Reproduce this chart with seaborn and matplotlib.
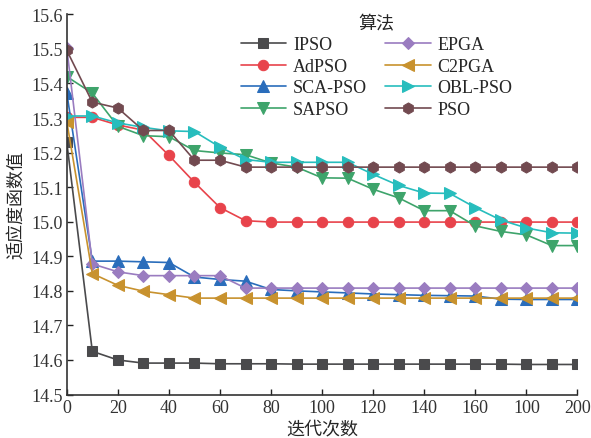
import numpy as np
import pandas as pd
import matplotlib
matplotlib.use("Agg")
import matplotlib.pyplot as plt
import seaborn as sns

iterations = [0, 10, 20, 30, 40, 50, 60, 70, 80, 90, 100, 110, 120, 130, 140, 150, 160, 170, 180, 190, 200]

ipso = [15.23, 14.625, 14.600, 14.591, 14.591, 14.591, 14.589, 14.589, 14.589, 14.588, 14.588, 14.588, 14.588, 14.588, 14.588, 14.588, 14.588, 14.588, 14.587, 14.587, 14.587]
adpso = [15.302, 15.302, 15.280, 15.265, 15.192, 15.114, 15.041, 15.003, 14.999, 14.999, 14.999, 14.999, 14.999, 14.999, 14.999, 14.999, 14.999, 14.999, 14.999, 14.999, 14.999]
sca_pso = [15.373, 14.886, 14.886, 14.884, 14.882, 14.840, 14.833, 14.828, 14.804, 14.800, 14.797, 14.794, 14.791, 14.789, 14.787, 14.786, 14.785, 14.776, 14.775, 14.775, 14.775]
sapso = [15.420, 15.372, 15.276, 15.249, 15.246, 15.206, 15.199, 15.194, 15.170, 15.158, 15.127, 15.126, 15.094, 15.069, 15.032, 15.032, 14.988, 14.972, 14.962, 14.931, 14.931]
epga = [15.503, 14.878, 14.855, 14.844, 14.844, 14.844, 14.844, 14.808, 14.808, 14.808, 14.808, 14.808, 14.808, 14.808, 14.808, 14.808, 14.808, 14.808, 14.808, 14.808, 14.808]
c2pga = [15.290, 14.850, 14.816, 14.799, 14.789, 14.779, 14.779, 14.779, 14.779, 14.779, 14.779, 14.779, 14.779, 14.779, 14.779, 14.779, 14.779, 14.779, 14.779, 14.779, 14.779]
obl_pso = [15.306, 15.306, 15.286, 15.273, 15.263, 15.261, 15.216, 15.180, 15.172, 15.172, 15.172, 15.172, 15.137, 15.105, 15.083, 15.082, 15.041, 15.005, 14.982, 14.968, 14.967]
pso = [15.496, 15.346, 15.329, 15.264, 15.264, 15.178, 15.178, 15.158, 15.158, 15.158, 15.158, 15.158, 15.158, 15.158, 15.158, 15.158, 15.158, 15.158, 15.158, 15.158, 15.158]

series_names = ["IPSO", "AdPSO", "SCA-PSO", "SAPSO", "EPGA", "C2PGA", "OBL-PSO", "PSO"]
series_values = [ipso, adpso, sca_pso, sapso, epga, c2pga, obl_pso, pso]

xtick_values = [0, 20, 40, 60, 80, 100, 120, 140, 160, 180, 200]
xtick_labels = ["0", "20", "40", "60", "80", "100", "120", "140", "160", "100", "200"]
ytick_values = [14.5, 14.6, 14.7, 14.8, 14.9, 15.0, 15.1, 15.2, 15.3, 15.4, 15.5, 15.6]

colors = {"IPSO": "#4a4a4c", "AdPSO": "#e8434b", "SCA-PSO": "#2a6dbb", "SAPSO": "#3ea46b",
          "EPGA": "#9a7cc0", "C2PGA": "#c8922e", "OBL-PSO": "#27bdbd", "PSO": "#724a50"}
markers = {"IPSO": "s", "AdPSO": "o", "SCA-PSO": "^", "SAPSO": "v",
           "EPGA": "D", "C2PGA": "<", "OBL-PSO": ">", "PSO": "h"}
msizes = {"IPSO": 6.5, "AdPSO": 7.5, "SCA-PSO": 8, "SAPSO": 8,
          "EPGA": 6.5, "C2PGA": 8, "OBL-PSO": 8, "PSO": 8}

df = pd.DataFrame({
    "iter": np.tile(iterations, len(series_names)),
    "value": np.concatenate(series_values),
    "alg": np.repeat(series_names, len(iterations)),
})

sns.set_style("ticks")
serif = ["Liberation Serif", "DejaVu Serif"]
cjk = ["Noto Sans CJK SC", "DejaVu Sans"]
plt.rcParams["font.family"] = serif
plt.rcParams["xtick.direction"] = "in"
plt.rcParams["ytick.direction"] = "in"

fig = plt.figure(figsize=(5.91, 4.39), dpi=100)
ax = fig.add_axes([0.113, 0.099, 0.864, 0.866])

for name in series_names:
    sub = df[df["alg"] == name]
    sns.lineplot(data=sub, x="iter", y="value", ax=ax, color=colors[name],
                 marker=markers[name], markersize=msizes[name], markeredgecolor=colors[name],
                 linewidth=1.2, label=name, errorbar=None)

ax.set_xlim(0, 200)
ax.set_ylim(14.5, 15.6)
ax.set_xticks(xtick_values)
ax.set_xticklabels(xtick_labels)
ax.set_yticks(ytick_values)
ax.set_yticklabels([f"{v:.1f}" for v in ytick_values])
ax.tick_params(axis="both", labelsize=13, length=4, width=1, colors="#222222", pad=3)
for lbl in ax.get_xticklabels() + ax.get_yticklabels():
    lbl.set_color("#333333")
for s in ["top", "right"]:
    ax.spines[s].set_visible(False)
for s in ["left", "bottom"]:
    ax.spines[s].set_linewidth(1.2)
    ax.spines[s].set_color("#333333")

ax.set_xlabel("迭代次数", fontsize=13, family=cjk, labelpad=3)
ax.set_ylabel("适应度函数值", fontsize=13, family=cjk, labelpad=4)

handles, labels = ax.get_legend_handles_labels()
leg = ax.legend(handles, labels, ncol=2, frameon=False, title="算法",
                loc="upper left", bbox_to_anchor=(0.38, 1.003), bbox_transform=fig.transFigure,
                fontsize=13, handlelength=2.5, columnspacing=1.0, labelspacing=0.25,
                handletextpad=0.4)
leg.get_title().set_family(cjk)
leg.get_title().set_fontsize(13)

fig.savefig("out.png", dpi=100)
